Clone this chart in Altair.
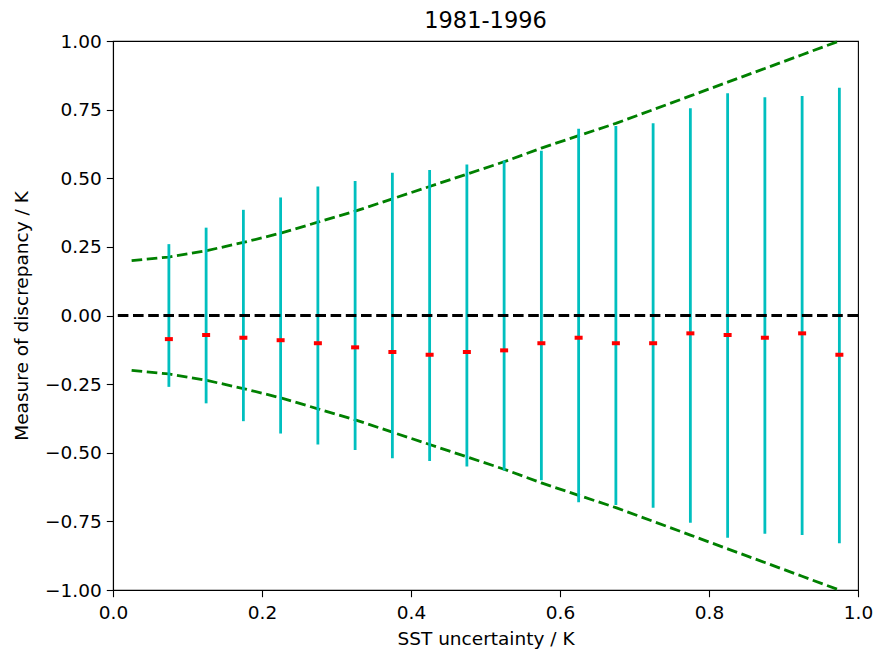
import altair as alt
import pandas as pd

title_text = "1981-1996"
x_title = "SST uncertainty / K"
y_title = "Measure of discrepancy / K"

# error bar positions, half-widths (symmetric) and medians
bar_x = [0.075, 0.125, 0.175, 0.225, 0.275, 0.325, 0.375, 0.425, 0.475, 0.525,
         0.575, 0.625, 0.675, 0.725, 0.775, 0.825, 0.875, 0.925, 0.975]
bar_half = [0.26, 0.32, 0.385, 0.43, 0.47, 0.49, 0.52, 0.53, 0.55, 0.565,
            0.60, 0.68, 0.69, 0.70, 0.755, 0.81, 0.795, 0.80, 0.83]
medians = [-0.086, -0.071, -0.081, -0.09, -0.101, -0.116, -0.133, -0.143, -0.133, -0.127,
           -0.101, -0.081, -0.101, -0.101, -0.065, -0.071, -0.081, -0.065, -0.143]

# envelope curve
curve_x = [0.025, 0.075, 0.125, 0.175, 0.225, 0.275, 0.325, 0.375, 0.425, 0.475,
           0.525, 0.575, 0.625, 0.675, 0.725, 0.775, 0.825, 0.875, 0.925, 0.975]
curve_upper = [0.20, 0.213, 0.236, 0.266, 0.30, 0.34, 0.38, 0.425, 0.47, 0.515,
               0.56, 0.61, 0.655, 0.70, 0.75, 0.80, 0.85, 0.90, 0.95, 1.00]
curve_lower = [-0.20, -0.213, -0.236, -0.266, -0.30, -0.34, -0.38, -0.425, -0.47, -0.515,
               -0.56, -0.61, -0.655, -0.70, -0.75, -0.80, -0.85, -0.90, -0.95, -1.00]

bars = pd.DataFrame({"x": bar_x, "lo": [-h for h in bar_half], "hi": bar_half, "med": medians})
curves = pd.DataFrame({
    "x": curve_x + curve_x,
    "y": curve_upper + curve_lower,
    "side": ["upper"] * len(curve_x) + ["lower"] * len(curve_x),
})

xs = alt.Scale(domain=[0, 1], nice=False, zero=False, padding=0)
ys = alt.Scale(domain=[-1, 1], nice=False, zero=False, padding=0)

font = "DejaVu Sans"
dash = [10.6, 4.6]

x_axis = alt.Axis(title=x_title, values=[0, 0.2, 0.4, 0.6, 0.8, 1.0], format=".1f",
                  grid=False, tickSize=6.7, tickWidth=1.1, tickColor="black",
                  domainColor="black", domainWidth=1.1, labelFlush=False,
                  labelColor="black", titleColor="black", labelFontSize=18.5, titleFontSize=18.5,
                  labelFont=font, titleFont=font, titleFontWeight="normal", labelPadding=7,
                  titlePadding=7)
y_axis = alt.Axis(title=y_title, values=[-1, -0.75, -0.5, -0.25, 0, 0.25, 0.5, 0.75, 1.0],
                  format=".2f", grid=False, tickSize=6.7, tickWidth=1.1, tickColor="black",
                  domainColor="black", domainWidth=1.1, labelFlush=False,
                  labelColor="black", titleColor="black", labelFontSize=18.5, titleFontSize=18.5,
                  labelFont=font, titleFont=font, titleFontWeight="normal", labelPadding=5,
                  titlePadding=13)

curve_layer = alt.Chart(curves).mark_line(color="#008000", strokeWidth=2.8,
                                          strokeDash=dash).encode(
    x=alt.X("x:Q", scale=xs, axis=x_axis),
    y=alt.Y("y:Q", scale=ys, axis=y_axis),
    detail="side:N",
)

err_layer = alt.Chart(bars).mark_rule(color="#00BFBF", strokeWidth=2.8).encode(
    x=alt.X("x:Q", scale=xs),
    y=alt.Y("lo:Q", scale=ys),
    y2="hi:Q",
)

zero_layer = alt.Chart(pd.DataFrame({"y": [0]})).mark_rule(
    color="black", strokeWidth=2.8, strokeDash=dash).encode(
    y=alt.Y("y:Q", scale=ys),
)

med_layer = alt.Chart(bars).mark_point(
    shape="M-1,-0.5L1,-0.5L1,0.5L-1,0.5Z", size=64, filled=True,
    color="#FF0000", opacity=1, strokeWidth=0).encode(
    x=alt.X("x:Q", scale=xs),
    y=alt.Y("med:Q", scale=ys),
)

chart = alt.layer(curve_layer, err_layer, zero_layer, med_layer).properties(
    width=745, height=549,
    title=alt.Title(title_text, fontSize=22.5, font=font, fontWeight="normal", color="black",
                    offset=0),
    autosize=alt.AutoSizeParams(type="none"),
    padding={"left": 105, "top": 33, "right": 15, "bottom": 60},
    background="white",
).configure_view(stroke="black", strokeWidth=1.1)

chart.save("out.html", embed_options={"renderer": "svg", "actions": False})
